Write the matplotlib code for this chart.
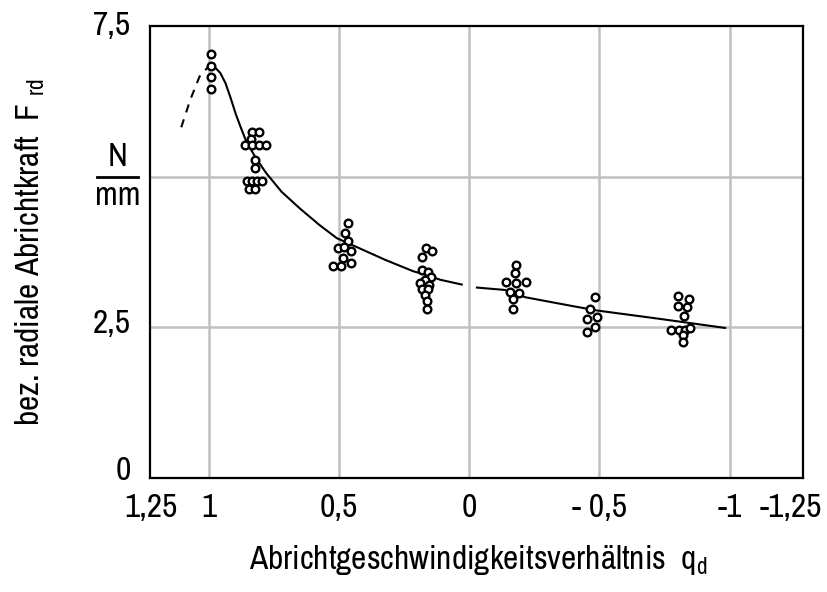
import matplotlib.pyplot as plt
from matplotlib import font_manager as fm
from matplotlib.transforms import ScaledTranslation

# pick a narrow sans face if one is installed, else fall back to Liberation Sans
fonts = fm.fontManager.ttflist
narrow = [f.name for f in fonts if 'Narrow' in f.name or 'Condensed' in f.name]
dejavu_cond = [f for f in fonts if f.name == 'DejaVu Sans' and 'condensed' in str(f.stretch)]
if narrow:
    FAMILY, STRETCH, FS = narrow[0], 'normal', 24
elif dejavu_cond:
    FAMILY, STRETCH, FS = 'DejaVu Sans', 'condensed', 20
else:
    FAMILY, STRETCH, FS = 'Liberation Sans', 'normal', 20

plt.rcParams['font.family'] = [FAMILY, 'DejaVu Sans']
plt.rcParams['font.stretch'] = STRETCH
plt.rcParams['mathtext.fontset'] = 'custom'
plt.rcParams['mathtext.rm'] = FAMILY

q_pts = [0.99, 0.99, 0.99, 0.99,
         0.832, 0.806, 0.838, 0.860, 0.834, 0.806, 0.780, 0.821, 0.821,
         0.853, 0.834, 0.815, 0.796, 0.843, 0.821,
         0.463, 0.476, 0.463, 0.502, 0.480, 0.454, 0.485, 0.521, 0.493, 0.454,
         0.165, 0.142, 0.180, 0.180, 0.157, 0.146, 0.169, 0.188, 0.154,
         0.180, 0.157, 0.169, 0.161, 0.161,
         -0.180, -0.177, -0.141, -0.180, -0.218, -0.157, -0.192, -0.170, -0.170,
         -0.484, -0.464, -0.454, -0.493, -0.484, -0.452,
         -0.803, -0.846, -0.803, -0.838, -0.825, -0.774, -0.806, -0.829,
         -0.848, -0.820, -0.820]
f_pts = [7.03, 6.83, 6.66, 6.45,
         5.74, 5.74, 5.63, 5.53, 5.53, 5.53, 5.53, 5.28, 5.14,
         4.92, 4.92, 4.92, 4.92, 4.80, 4.80,
         4.23, 4.06, 3.94, 3.82, 3.83, 3.76, 3.65, 3.52, 3.52, 3.57,
         3.82, 3.76, 3.67, 3.45, 3.42, 3.34, 3.29, 3.24, 3.21,
         3.14, 3.14, 3.04, 2.94, 2.81,
         3.54, 3.40, 3.26, 3.23, 3.26, 3.09, 3.07, 2.97, 2.80,
         3.01, 2.81, 2.64, 2.67, 2.50, 2.42,
         3.02, 2.97, 2.86, 2.84, 2.68, 2.46, 2.46, 2.46,
         2.49, 2.38, 2.26]

# trend curve: dashed extrapolation and two solid pieces
dash_q = [1.105, 1.07, 1.035, 1.0]
dash_f = [5.82, 6.28, 6.66, 6.83]
curve1_q = [1.0, 0.975, 0.955, 0.935, 0.915, 0.895, 0.875, 0.855, 0.82, 0.779,
            0.72, 0.649, 0.575, 0.508, 0.425, 0.322, 0.214, 0.165, 0.111, 0.028]
curve1_f = [6.83, 6.81, 6.72, 6.55, 6.30, 6.03, 5.80, 5.58, 5.32, 5.06,
            4.75, 4.47, 4.20, 3.98, 3.82, 3.62, 3.43, 3.37, 3.29, 3.21]
curve2_q = [-0.030, -0.138, -0.215, -0.388, -0.490, -0.733, -0.983]
curve2_f = [3.16, 3.12, 3.00, 2.86, 2.78, 2.64, 2.49]

xgrid = [1, 0.5, 0, -0.5, -1]
xticks = [1.22, 1, 0.5, 0, -0.5, -1, -1.235]
xticklabels = ['1,25', '1', '0,5', '0', '- 0,5', '-1', '-1,25']
yticks = [0, 2.5, 7.5]
yticklabels = ['0', '2,5', '7,5']

fig = plt.figure(figsize=(8.27, 5.92), dpi=100)
ax = fig.add_axes([150/827, 1-478/592, 653/827, 452/592])

for v in xgrid:
    ax.axvline(v, color='#c0c0c0', lw=1.8, zorder=0)
for v in [2.5, 5]:
    ax.axhline(v, color='#c0c0c0', lw=1.8, zorder=0)

ax.plot(dash_q, dash_f, color='k', lw=1.5, linestyle=(0, (4, 3.5)), zorder=2)
ax.plot(curve1_q, curve1_f, color='k', lw=1.5, zorder=2)
ax.plot(curve2_q, curve2_f, color='k', lw=1.5, zorder=2)
ax.plot(q_pts, f_pts, linestyle='none', marker='o', ms=5.5, mew=1.7,
        mfc='white', mec='k', zorder=3)

ax.set_xlim(1.225, -1.282)
ax.set_ylim(0, 7.5)
ax.set_xticks(xticks)
ax.set_xticklabels(xticklabels, fontsize=FS)
ax.set_yticks(yticks)
ax.set_yticklabels(yticklabels, fontsize=FS)
ax.tick_params(length=0)
ax.tick_params(axis='y', pad=14)
ax.tick_params(axis='x', pad=11)
for s in ax.spines.values():
    s.set_linewidth(1.6)

# y labels sit a little above their lines in the original
for lab, dy in zip(ax.get_yticklabels(), [10, 6, 3]):
    lab.set_transform(lab.get_transform() + ScaledTranslation(0, dy/100, fig.dpi_scale_trans))

# unit N/mm at the 5 mark
tr = ax.get_yaxis_transform()
ax.text(-0.049, 5.08, 'N', transform=tr, ha='center', va='bottom', fontsize=FS)
ax.text(-0.049, 4.92, 'mm', transform=tr, ha='center', va='top', fontsize=FS)
ax.plot([-0.081, -0.019], [5, 5], transform=tr, color='k', lw=2, clip_on=False)

fig.text(30/827, 1-252/592, r'bez. radiale Abrichtkraft  F$_{\ \mathregular{rd}}$',
         rotation=90, ha='center', va='center', fontsize=FS)
fig.text(478/827, 1-560/592, r'Abrichtgeschwindigkeitsverhältnis  q$_\mathregular{d}$',
         ha='center', va='center', fontsize=FS)

fig.savefig('out.png', dpi=100)
